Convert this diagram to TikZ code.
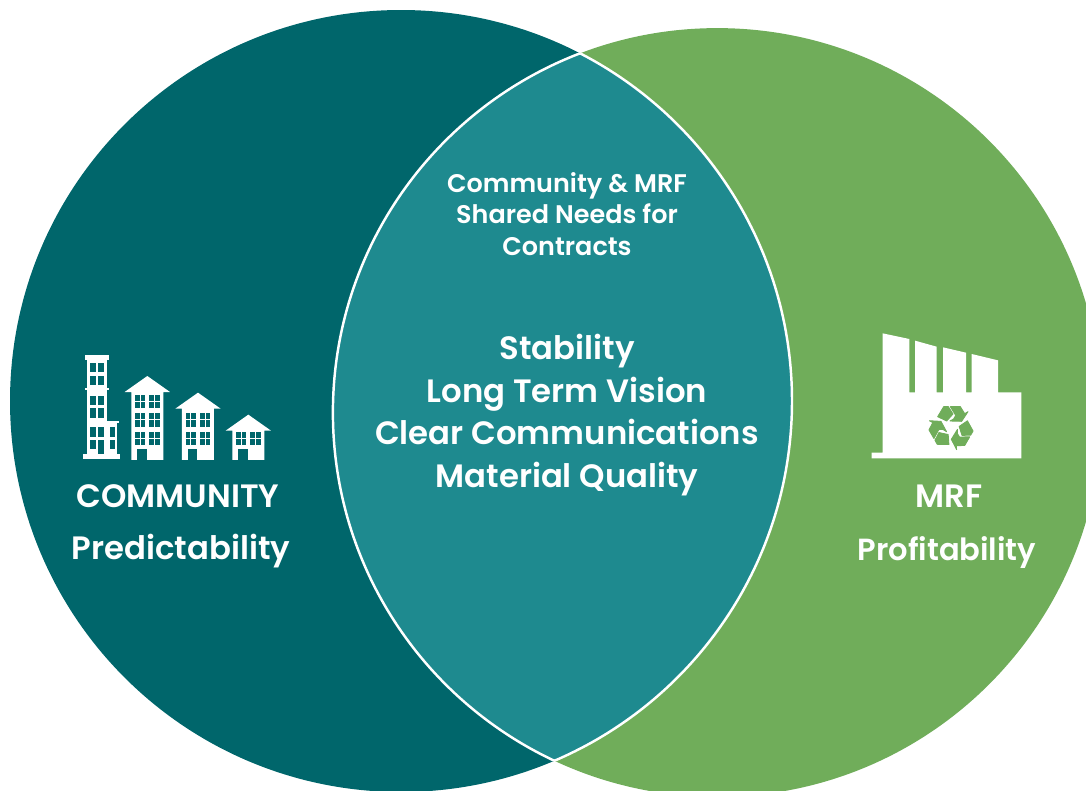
\documentclass[tikz,border=0pt]{standalone}
\usepackage{fontspec}
\setmainfont{Poppins}[BoldFont={Poppins SemiBold}]
\usepackage{xcolor}
\usetikzlibrary{positioning,calc}

\definecolor{commTeal}{RGB}{0,102,107}
\definecolor{mrfGreen}{RGB}{112,173,90}
\definecolor{shareTeal}{RGB}{30,138,143}

\tikzset{
	bigtxt/.style={text=white, font=\fontsize{18.4}{24.2}\selectfont\bfseries, align=center, inner sep=0pt},
	smalltxt/.style={text=white, font=\fontsize{14.5}{18.1}\selectfont\bfseries, align=center, inner sep=0pt},
	glass/.style={fill=commTeal},
	glassbar/.style={white, line width=0.55pt},
	recyc/.style={fill=mrfGreen, draw=mrfGreen, line width=0.5pt},
}

% one window with its cross bars (icon pixels)
\newcommand{\winpane}[4]{%
	\fill[glass] (#1,#2) rectangle (#3,#4);
	\draw[glassbar] ({(#1+#3)/2},#2) -- ({(#1+#3)/2},#4);
	\draw[glassbar] (#1,{(#2+#4)/2}) -- (#3,{(#2+#4)/2});
}
% one pitched house: apex x, apex y, list of window rows
\newcommand{\pitchhouse}[3]{%
	\fill[white] (#1,#2) -- (#1+68,#2+48) -- (#1+48,#2+48) -- (#1+48,360) -- (#1-48,360) -- (#1-48,#2+48) -- (#1-68,#2+48) -- cycle;
	\foreach \ry in {#3}{
		\winpane{#1-37}{\ry}{#1-7}{\ry+41}
		\winpane{#1+6}{\ry}{#1+37}{\ry+41}
	}
	\fill[glass] (#1-31,326) rectangle (#1-2,360);
}

\begin{document}
\begin{tikzpicture}[x=0.02cm,y=-0.02cm,line join=round]
	% ---- picture frame
	\useasboundingbox (0,0) rectangle (1086,791);
	\clip (0,0) rectangle (1086,791);

	% ---- parameters
	\def\xLeft{401}
	\def\yLeft{401}
	\def\rLeft{391}
	\def\xRight{717.3}
	\def\yRight{412.5}
	\def\rRight{384.4}

	% ---- two circles
	\fill[commTeal] (\xLeft,\yLeft) circle [radius=\rLeft];
	\fill[mrfGreen] (\xRight,\yRight) circle [radius=\rRight];

	% ---- shared lens
	\begin{scope}
		\clip (\xLeft,\yLeft) circle [radius=\rLeft];
		\fill[shareTeal] (\xRight,\yRight) circle [radius=\rRight];
		\draw[white, line width=1.4pt] (\xRight,\yRight) circle [radius=\rRight];
	\end{scope}
	\begin{scope}
		\clip (\xRight,\yRight) circle [radius=\rRight];
		\draw[white, line width=1.4pt] (\xLeft,\yLeft) circle [radius=\rLeft];
	\end{scope}

	% ---- labels in the lens
	\node[smalltxt] (sharedTitle) at (567,214) {Community \& MRF\\Shared Needs for\\Contracts};
	\node[bigtxt] (sharedList) at (567,415) {Stability\\Long Term Vision\\Clear Communications\\Material Quality};

	% ---- side labels
	\node[bigtxt] (commName) at (178,496) {COMMUNITY};
	\node[bigtxt] (commNeed) at (181,551) {Predictability};
	\node[bigtxt] (mrfName) at (949,496) {MRF};
	\node[bigtxt, font=\fontsize{17.4}{24.2}\selectfont\bfseries] (mrfNeed) at (947,553) {Profitability};

	% ---- buildings
	\begin{scope}[shift={(60,340)}, x=0.02cm/3, y=-0.02cm/3]
		% tower
		\fill[white] (74,44) rectangle (148,60);
		\fill[white] (80,60) rectangle (142,342);
		\fill[white] (74,144) rectangle (148,150);
		\fill[white] (142,242) rectangle (177,250);
		\fill[white] (142,250) rectangle (170,342);
		\fill[white] (69,342) rectangle (180,358);
		\foreach \ry in {69,107,167,205,262,300}{
			\fill[glass] (89,\ry) rectangle (107,\ry+28);
		}
		\foreach \ry in {69,107,167,205,262}{
			\fill[glass] (114,\ry) rectangle (133,\ry+28);
		}
		\fill[glass] (114,300) rectangle (133,342);
		\foreach \ry in {262,300}{
			\fill[glass] (151,\ry) rectangle (165,\ry+28);
		}
		% houses
		\pitchhouse{262}{108}{164,219,275}
		\pitchhouse{414}{158}{219,275}
		\pitchhouse{565}{224}{275}
	\end{scope}

	% ---- factory
	\begin{scope}[shift={(860,320)}, x=0.02cm/3, y=-0.02cm/3]
		\fill[white] (68,40) -- (148,57) -- (148,217) -- (165,217) -- (165,62) -- (230,80) -- (230,217)
			-- (249,217) -- (249,82) -- (318,98) -- (318,217) -- (335,217) -- (335,102) -- (414,121)
			-- (414,217) -- (484,217) -- (484,415) -- (35,415) -- (35,398) -- (68,398) -- cycle;
		% recycle arrows
		\foreach \ang in {0,120,240}{
			\begin{scope}[rotate around={\ang:(274,322)}]
				\filldraw[recyc] (233,290) -- (251,260) -- (265,260) -- (279,282) -- (260,303) -- cycle;
				\filldraw[recyc] (271,260) -- (301,260) -- (314,281) -- (324,275) -- (305,304) -- (270,303) -- (281,297) -- (287,286) -- cycle;
			\end{scope}
		}
	\end{scope}
\end{tikzpicture}
\end{document}
